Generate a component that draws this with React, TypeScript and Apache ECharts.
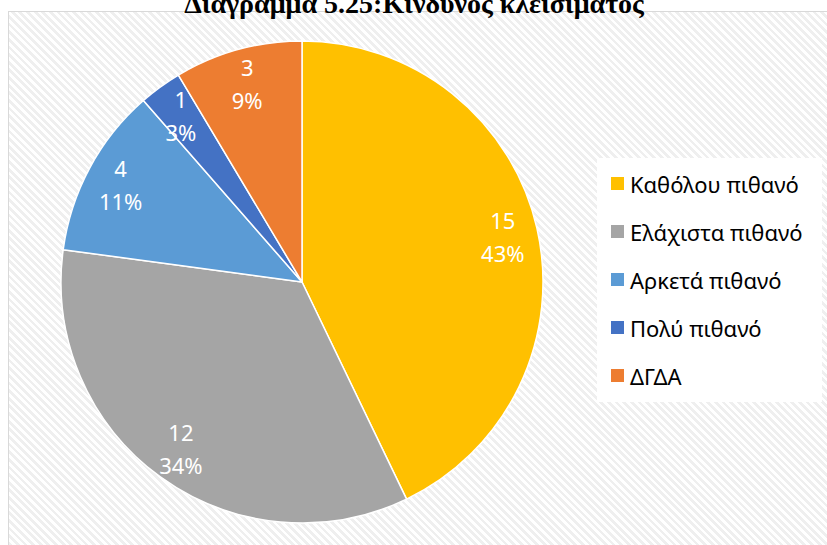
import React, { useEffect, useRef } from "react";
import * as echarts from "echarts";

const categories = ["Καθόλου πιθανό", "Ελάχιστα πιθανό", "Αρκετά πιθανό", "Πολύ πιθανό", "ΔΓΔΑ"];
const values = [15, 12, 4, 1, 3];
const colors = ["#FFC000", "#A5A5A5", "#5B9BD5", "#4472C4", "#ED7D31"];
const titleText = "Διάγραμμα 5.25:Κίνδυνος κλεισίματος";

export default function App() {
  const ref = useRef<HTMLDivElement>(null);
  useEffect(() => {
    if (!ref.current) return;
    const chart = echarts.init(ref.current, null, { renderer: "svg" });
    const total = values.reduce((a, b) => a + b, 0);
    const data = categories.map((c, i) => ({ name: c, value: values[i], itemStyle: { color: colors[i] } }));
    chart.setOption({
      animation: false,
      title: {
        text: titleText,
        left: 409,
        textAlign: "center",
        top: -16,
        textStyle: { fontFamily: "Liberation Serif", fontWeight: "bold", fontSize: 28, color: "#000" },
      },
      graphic: [
        {
          type: "rect",
          shape: { x: 597, y: 158, width: 225, height: 244 },
          style: { fill: "#ffffff" },
          z: -1,
          silent: true,
        },
      ],
      legend: {
        orient: "vertical",
        left: 597,
        top: 158,
        padding: [14, 12, 14, 12],
        itemWidth: 15,
        itemHeight: 15,
        itemGap: 25,
        icon: "rect",
        data: categories,
        textStyle: { fontFamily: "Noto Sans", fontSize: 22, color: "#000", lineHeight: 23 },
      },
      series: [
        {
          type: "pie",
          center: [302, 282],
          radius: [0, 241],
          startAngle: 90,
          clockwise: true,
          data,
          label: { show: false },
          labelLine: { show: false },
          itemStyle: { borderColor: "#fff", borderWidth: 1.5 },
        },
        {
          type: "pie",
          center: [302, 282],
          radius: [165, 241],
          startAngle: 90,
          clockwise: true,
          silent: true,
          data: categories.map((c, i) => ({ name: c, value: values[i], itemStyle: { color: "rgba(0,0,0,0)" } })),
          label: {
            show: true,
            position: "inside",
            formatter: (p: any) => `${p.value}\n${Math.round((p.value / total) * 100)}%`,
            color: "#fff",
            fontFamily: "Noto Sans",
            fontSize: 22,
            lineHeight: 33,
          },
          labelLine: { show: false },
          itemStyle: { borderWidth: 0 },
        },
      ],
    });
    return () => chart.dispose();
  }, []);
  return (
    <div style={{ position: "fixed", left: 0, top: 0, width: 827, height: 545, background: "#fff", overflow: "hidden" }}>
      <div
        style={{
          position: "absolute",
          left: 8,
          top: 11,
          width: 840,
          height: 560,
          border: "1.5px solid #d9d9d9",
          background: "repeating-linear-gradient(45deg, #ffffff 0px, #ffffff 2.7px, #efefef 2.7px, #efefef 5.4px)",
        }}
      />
      <div ref={ref} style={{ position: "absolute", left: 0, top: 0, width: 827, height: 545 }} />
    </div>
  );
}
